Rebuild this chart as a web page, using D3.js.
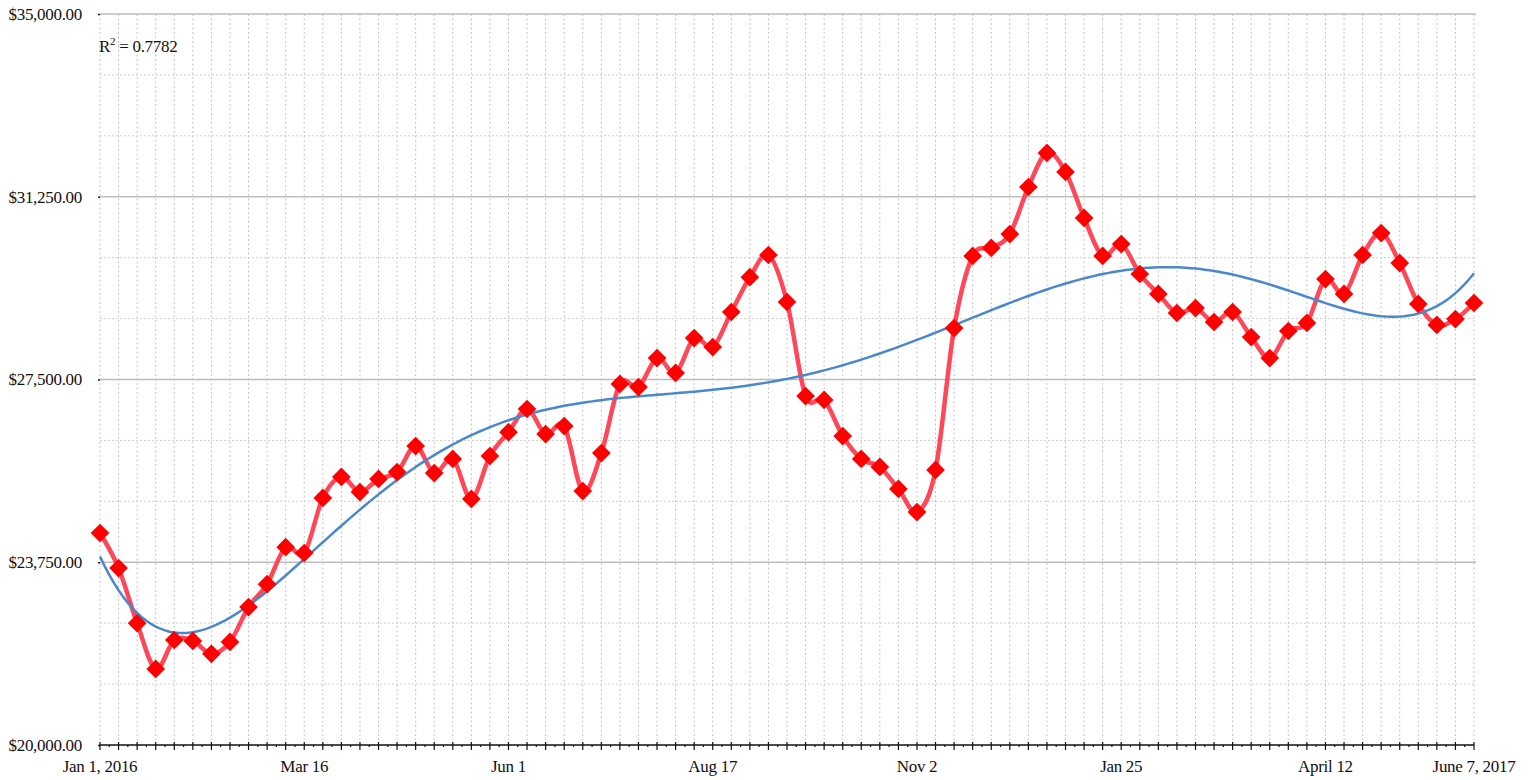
<!DOCTYPE html>
<html>
<head>
<meta charset="utf-8">
<script src="https://cdnjs.cloudflare.com/ajax/libs/d3/7.8.5/d3.min.js"></script>
<style>
  body { margin: 0; background: #fff; }
  text { font-family: "Liberation Serif", "DejaVu Serif", serif; fill: #111; }
</style>
</head>
<body>
<div id="chart"></div>
<script>
// weekly values, one per category
var values = [
  24350, 23630, 22500, 21560, 22155, 22135, 21870, 22115, 22830, 23300,
  24060, 23940, 25070, 25500, 25190, 25460, 25600, 26135, 25580, 25870,
  25050, 25930, 26420, 26895, 26380, 26545, 25210, 25990, 27410, 27345,
  27940, 27635, 28350, 28165, 28885, 29600, 30055, 29090, 27160, 27080,
  26340, 25870, 25705, 25255, 24780, 25645, 28555, 30035, 30200, 30485,
  31450, 32150, 31760, 30815, 30035, 30280, 29665, 29255, 28865, 28965,
  28680, 28885, 28370, 27940, 28495, 28660, 29560, 29255, 30055, 30505,
  29890, 29050, 28620, 28740, 29070
];
var tickIndex = [0, 11, 22, 33, 44, 55, 66, 74];
var tickText = ['Jan 1, 2016', 'Mar 16', 'Jun 1', 'Aug 17', 'Nov 2', 'Jan 25', 'April 12', 'June 7, 2017'];
var yTicks = [20000, 23750, 27500, 31250, 35000];
var yMinor = [21250, 22500, 25000, 26250, 28750, 30000, 32500, 33750];
var r2Text = '0.7782';
var trendDegree = 6;

var width = 1528, height = 780;
var svg = d3.select('#chart').append('svg')
  .attr('width', width)
  .attr('height', height);

var x = d3.scaleLinear().domain([0, values.length - 1]).range([100, 1474]);
var y = d3.scaleLinear().domain([20000, 35000]).range([745, 14]);
var fmt = d3.format('$,.2f');

// vertical dotted grid
svg.append('g').selectAll('line').data(d3.range(values.length))
  .enter().append('line')
  .attr('x1', function (d) { return x(d); })
  .attr('x2', function (d) { return x(d); })
  .attr('y1', y(35000)).attr('y2', y(20000))
  .attr('stroke', '#c4c4c4').attr('stroke-width', 1)
  .attr('stroke-dasharray', '2,2.5');

// minor horizontal dotted grid
svg.append('g').selectAll('line').data(yMinor)
  .enter().append('line')
  .attr('x1', x(0)).attr('x2', 1476)
  .attr('y1', function (d) { return y(d); })
  .attr('y2', function (d) { return y(d); })
  .attr('stroke', '#cfcfcf').attr('stroke-width', 1)
  .attr('stroke-dasharray', '2,2');

// major horizontal grid
svg.append('g').selectAll('line').data(yTicks.slice(1))
  .enter().append('line')
  .attr('x1', x(0)).attr('x2', 1476)
  .attr('y1', function (d) { return y(d); })
  .attr('y2', function (d) { return y(d); })
  .attr('stroke', '#bdbdbd').attr('stroke-width', 1.5);

// y labels + tiny ticks
var yAxis = d3.axisLeft(y).tickValues(yTicks).tickFormat(fmt).tickSize(2).tickPadding(16);
var gy = svg.append('g').attr('transform', 'translate(' + x(0) + ',0)').call(yAxis);
gy.select('.domain').remove();
gy.selectAll('.tick line').attr('stroke', '#222').attr('stroke-width', 1.5);
gy.selectAll('.tick text').style('font-size', '17px').style('letter-spacing', '-0.3px')
  .attr('fill', '#111');

// x axis
var gx = svg.append('g').attr('transform', 'translate(0,' + y(20000) + ')');
gx.append('line').attr('x1', x(0)).attr('x2', x(values.length - 1))
  .attr('stroke', '#111').attr('stroke-width', 1.5);
gx.selectAll('.major').data(d3.range(values.length))
  .enter().append('line').attr('class', 'major')
  .attr('x1', function (d) { return x(d); })
  .attr('x2', function (d) { return x(d); })
  .attr('y1', -3).attr('y2', 5)
  .attr('stroke', '#111').attr('stroke-width', 1.2);
gx.selectAll('.minor').data(d3.range(values.length - 1))
  .enter().append('line').attr('class', 'minor')
  .attr('x1', function (d) { return x(d + 0.5); })
  .attr('x2', function (d) { return x(d + 0.5); })
  .attr('y1', 0).attr('y2', 2)
  .attr('stroke', '#111').attr('stroke-width', 1.2);
gx.selectAll('text').data(tickIndex)
  .enter().append('text')
  .attr('x', function (d) { return x(d); })
  .attr('y', 27)
  .attr('text-anchor', 'middle')
  .style('font-size', '17px').style('letter-spacing', '-0.3px')
  .text(function (d, i) { return tickText[i]; });

// polynomial trendline (least squares)
var polyfit = function (ys, deg) {
  var n = ys.length, m = deg + 1;
  var A = [], b = [];
  for (var r = 0; r < m; r++) { A.push(new Array(m).fill(0)); b.push(0); }
  ys.forEach(function (v, i) {
    var t = i / (n - 1);
    for (var r = 0; r < m; r++) {
      b[r] += v * Math.pow(t, r);
      for (var c = 0; c < m; c++) A[r][c] += Math.pow(t, r + c);
    }
  });
  for (var k = 0; k < m; k++) {
    var p = k;
    for (var r2 = k + 1; r2 < m; r2++) if (Math.abs(A[r2][k]) > Math.abs(A[p][k])) p = r2;
    var tmp = A[k]; A[k] = A[p]; A[p] = tmp;
    var tb = b[k]; b[k] = b[p]; b[p] = tb;
    for (var r3 = k + 1; r3 < m; r3++) {
      var f = A[r3][k] / A[k][k];
      for (var c2 = k; c2 < m; c2++) A[r3][c2] -= f * A[k][c2];
      b[r3] -= f * b[k];
    }
  }
  var coef = new Array(m).fill(0);
  for (var k2 = m - 1; k2 >= 0; k2--) {
    var s = b[k2];
    for (var c3 = k2 + 1; c3 < m; c3++) s -= A[k2][c3] * coef[c3];
    coef[k2] = s / A[k2][k2];
  }
  return function (i) {
    var t = i / (n - 1), out = 0;
    for (var r4 = 0; r4 < m; r4++) out += coef[r4] * Math.pow(t, r4);
    return out;
  };
};
var trend = polyfit(values, trendDegree);
var trendPts = d3.range(0, values.length - 1 + 0.001, 0.25);

// data line (smoothed)
svg.append('path').datum(values)
  .attr('fill', 'none')
  .attr('stroke', '#ff4757')
  .attr('stroke-width', 4.5)
  .attr('stroke-linejoin', 'round')
  .attr('d', d3.line()
    .x(function (d, i) { return x(i); })
    .y(function (d) { return y(d); })
    .curve(d3.curveCardinal.tension(0)));

svg.append('path').datum(trendPts)
  .attr('fill', 'none')
  .attr('stroke', '#4a88cb')
  .attr('stroke-width', 2.5)
  .attr('d', d3.line()
    .x(function (d) { return x(d); })
    .y(function (d) { return y(trend(d)); })
    .curve(d3.curveLinear));

// diamond markers
svg.append('g').selectAll('path').data(values)
  .enter().append('path')
  .attr('d', d3.symbol(d3.symbolSquare, 175))
  .attr('transform', function (d, i) { return 'translate(' + x(i) + ',' + y(d) + ') rotate(45)'; })
  .attr('fill', '#ff0000');

// R squared label
var rt = svg.append('text').attr('x', 99).attr('y', 52).style('font-size', '17px').style('letter-spacing', '-0.3px');
rt.append('tspan').text('R');
rt.append('tspan').attr('dy', -7).style('font-size', '11px').text('2');
rt.append('tspan').attr('dy', 7).text(' = ' + r2Text);
</script>
</body>
</html>
